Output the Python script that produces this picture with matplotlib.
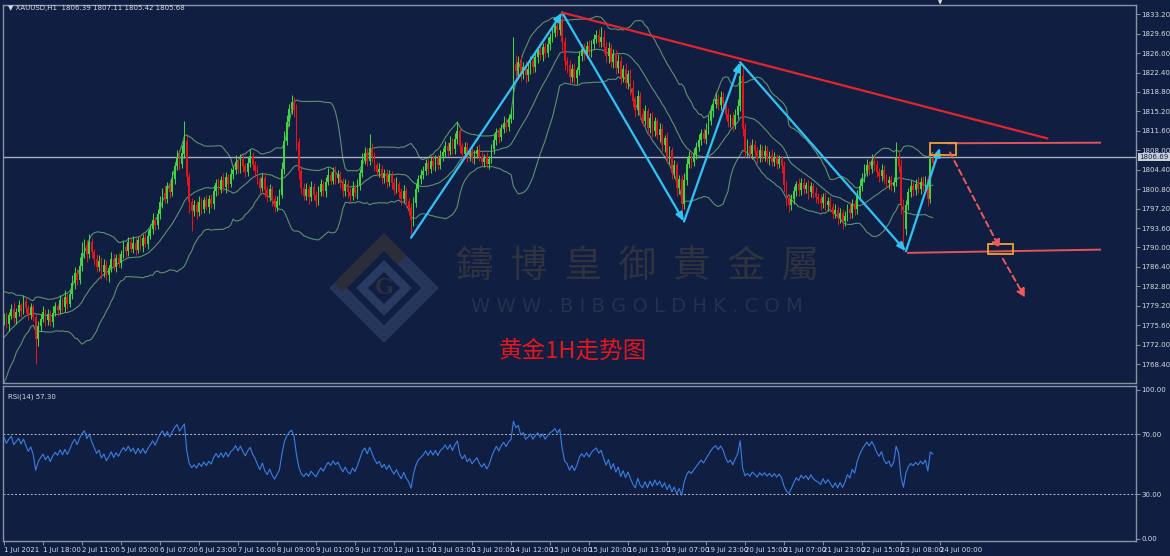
import matplotlib.pyplot as plt
import matplotlib.patches as mpatches
import numpy as np

# ---- data (XAUUSD H1, 1 Jul - 23 Jul 2021) ----
pre_close = [1765.0, 1766.6, 1765.8, 1767.9, 1769.2, 1768.1, 1770.4, 1771.9, 1770.8, 1772.7,
             1774.3, 1773.2, 1775.5, 1777.0, 1775.9, 1777.8, 1779.4, 1778.2, 1779.0, 1776.6]
first_open = 1776.6

close = [
    1777.0, 1775.8, 1777.4, 1778.6, 1776.9, 1778.1,
    1779.3, 1778.2, 1780.0, 1778.7, 1777.5, 1778.9, 1777.2,
    1773.0, 1775.4,
    1776.8, 1778.0, 1776.5, 1777.7, 1776.2, 1777.9, 1779.1,
    1778.4, 1780.2, 1779.0, 1780.8, 1779.6, 1781.3,
    1783.5, 1785.2, 1784.0, 1786.6,
    1788.9, 1790.4, 1788.7, 1791.0, 1789.2, 1787.8,
    1786.3, 1787.5, 1785.4, 1786.8, 1784.9, 1786.2, 1787.9, 1786.4, 1788.0, 1787.1,
    1788.8, 1790.1, 1789.3, 1791.0, 1789.8, 1790.9, 1789.6, 1791.4, 1790.3, 1791.8, 1790.7, 1792.2,
    1793.5, 1795.0, 1794.1, 1796.2,
    1798.4, 1800.1, 1799.0, 1801.3, 1800.2, 1802.6,
    1805.0, 1806.8, 1805.5, 1807.4, 1809.8,
    1803.0, 1798.5, 1796.8,
    1797.9, 1796.6, 1798.4, 1797.2, 1798.8, 1797.5, 1799.0, 1798.1,
    1800.4, 1801.9, 1800.7, 1802.5, 1801.2, 1803.0, 1801.8, 1803.6,
    1804.3, 1805.9, 1804.6, 1806.4, 1805.1, 1804.0, 1805.7, 1806.9, 1805.3, 1804.2,
    1802.6, 1801.1, 1802.9, 1800.6, 1799.4, 1800.8,
    1798.9, 1797.5, 1798.6, 1799.8,
    1804.5, 1809.8, 1813.2, 1815.6,
    1817.0, 1815.4,
    1809.5, 1804.2, 1801.0, 1799.6,
    1800.9, 1799.3, 1801.2, 1799.8, 1798.6, 1800.3, 1801.7, 1800.4,
    1802.1, 1803.5, 1802.4, 1804.0, 1802.8, 1803.6,
    1801.9, 1800.4, 1801.8, 1800.2, 1799.5, 1801.1, 1800.0, 1801.6,
    1803.8, 1806.2, 1807.5, 1806.0, 1808.4, 1806.8,
    1805.2, 1803.9, 1804.6, 1802.8, 1803.7, 1802.2, 1803.4, 1801.9,
    1800.7, 1801.8, 1800.2, 1799.0, 1800.5, 1798.6, 1797.4,
    1795.0,
    1798.3, 1800.9, 1802.6, 1803.4,
    1804.2, 1805.6, 1804.5, 1806.1, 1805.0, 1806.5, 1805.3, 1806.9,
    1807.6, 1808.8, 1807.9, 1809.4, 1808.2, 1810.1, 1811.5, 1808.7,
    1807.4, 1808.6, 1806.9, 1807.8, 1806.5, 1807.3, 1808.1, 1806.8,
    1805.9, 1806.7, 1805.4, 1806.3,
    1808.2, 1809.9, 1811.3, 1810.4, 1812.0, 1813.1, 1812.3, 1813.8, 1814.6,
    1824.0,
    1822.6, 1824.3, 1822.1, 1823.5, 1821.9, 1823.0, 1824.6, 1823.4,
    1825.2, 1826.5, 1825.6, 1827.1, 1826.0, 1827.6,
    1828.9, 1829.7, 1831.0, 1830.2, 1832.0,
    1828.0, 1824.5, 1823.7,
    1821.6, 1823.0, 1821.3, 1822.8,
    1825.4, 1826.8, 1825.9, 1827.3, 1826.2, 1827.7,
    1828.6, 1829.3, 1828.1, 1829.0,
    1827.2, 1825.4, 1826.9, 1824.3, 1825.8, 1823.2,
    1824.6, 1821.4, 1823.0, 1820.5, 1822.1, 1819.6,
    1817.1, 1815.4, 1818.0, 1814.8,
    1813.5, 1815.2, 1812.1, 1814.0, 1811.6, 1813.4, 1810.8, 1812.0,
    1808.9, 1810.2, 1806.5, 1808.0, 1803.8, 1805.2,
    1801.0, 1802.6, 1798.0,
    1802.5, 1805.4, 1806.9, 1805.8, 1807.3,
    1808.6, 1809.9, 1811.2, 1810.1, 1811.8, 1813.4,
    1815.2, 1816.6, 1817.4, 1816.3, 1817.9, 1816.8,
    1814.7, 1813.2, 1814.0, 1812.6,
    1814.5, 1816.2,
    1821.8,
    1812.0, 1807.9,
    1808.8, 1807.4, 1809.0, 1807.9, 1806.6, 1808.1, 1806.9, 1807.8, 1806.4, 1807.2,
    1805.9, 1806.8, 1805.5, 1806.3, 1805.0,
    1801.6, 1799.2, 1797.8, 1799.0,
    1800.4, 1801.7, 1800.6, 1802.0, 1800.9, 1801.5, 1800.2, 1801.3, 1800.1, 1799.4,
    1799.0, 1798.2, 1799.3, 1797.9, 1798.6, 1797.5,
    1796.2, 1797.0, 1795.5, 1796.4, 1794.9, 1795.8,
    1797.2, 1796.3, 1798.0, 1797.1,
    1799.6, 1801.4, 1802.9, 1804.1, 1805.3, 1804.6, 1806.0, 1805.2,
    1804.0, 1803.2, 1804.4, 1802.7,
    1801.9, 1802.5, 1801.3, 1802.2,
    1806.5, 1805.1,
    1798.0, 1793.5,
    1797.8, 1800.2, 1801.4, 1800.6, 1801.8, 1800.9,
    1802.2, 1801.3, 1802.6, 1799.0, 1806.39, 1805.68,
]

wick_up = [
    0.8, 1.1, 0.6, 0.9, 1.3, 0.7, 1.0, 0.5, 1.2, 0.8,
    0.6, 0.9, 0.7, 0.4, 1.0, 0.8, 1.1, 0.6, 0.9, 0.7,
    1.2, 0.8, 0.5, 1.0, 0.7, 1.3, 0.6, 0.9, 1.4, 1.1,
    0.8, 1.6, 2.1, 1.2, 0.9, 1.5, 0.8, 0.6, 0.9, 1.1,
    0.7, 1.0, 0.8, 0.6, 1.2, 0.9, 0.7, 1.0, 0.8, 1.1,
    0.6, 0.9, 0.7, 1.2, 0.8, 0.5, 1.0, 0.7, 0.9, 1.1,
    0.8, 1.3, 0.7, 1.0, 1.2, 0.9, 1.4, 0.8, 1.1, 1.5,
    0.9, 1.2, 0.8, 1.6, 3.7, 1.0, 0.8, 0.6, 0.9, 0.7,
    1.1, 0.8, 0.6, 1.0, 0.7, 0.9, 1.2, 0.8, 1.0, 0.7,
    1.3, 0.9, 0.6, 1.1, 0.8, 1.2, 0.7, 1.0, 0.9, 0.6,
    1.1, 1.4, 0.8, 0.7, 1.0, 0.6, 0.9, 0.8, 0.7, 1.0,
    0.6, 0.8, 0.9, 1.1, 1.4, 1.7, 1.3, 1.0, 1.2, 0.9,
    1.1, 0.8, 0.7, 0.9, 1.0, 0.6, 1.2, 0.8, 0.7, 1.1,
    0.9, 0.6, 1.0, 1.3, 0.7, 0.9, 1.1, 0.8, 0.6, 1.0,
    0.8, 0.7, 0.9, 1.2, 0.6, 1.0, 0.8, 1.3, 1.1, 0.9,
    2.6, 1.0, 0.8, 0.7, 1.1, 0.6, 0.9, 0.8, 1.0, 0.7,
    0.9, 1.2, 0.6, 0.8, 1.0, 0.7, 0.6, 0.9, 1.1, 1.0,
    0.8, 1.2, 0.9, 0.7, 1.0, 0.8, 1.1, 0.6, 0.9, 1.2,
    0.8, 1.0, 0.7, 1.3, 0.9, 1.1, 2.0, 0.8, 0.7, 1.0,
    0.9, 0.6, 1.1, 0.8, 0.7, 1.0, 0.8, 0.6, 0.9, 0.7,
    1.0, 1.2, 0.8, 1.1, 0.9, 1.3, 0.8, 1.0, 1.2, 5.0,
    1.6, 1.2, 1.4, 0.9, 1.1, 1.3, 0.8, 1.0, 1.2, 0.9,
    1.1, 0.8, 1.0, 1.3, 0.9, 1.1, 0.8, 1.2, 1.4, 1.7,
    1.0, 0.8, 1.1, 0.9, 1.2, 0.7, 1.0, 0.8, 1.1, 0.9,
    1.2, 0.8, 1.0, 0.9, 1.1, 1.8, 1.3, 0.9, 1.1, 0.8,
    1.0, 0.7, 1.2, 0.9, 0.8, 1.1, 0.7, 1.0, 1.4, 0.9,
    1.1, 0.8, 1.0, 1.2, 0.7, 0.9, 1.1, 0.8, 0.6, 1.0,
    0.9, 0.7, 1.1, 0.8, 0.6, 1.0, 0.7, 0.9, 0.8, 1.2,
    1.4, 1.0, 0.8, 1.1, 0.9, 1.2, 0.8, 1.0, 1.3, 1.1,
    1.2, 0.9, 1.4, 1.0, 1.1, 0.8, 0.9, 1.2, 0.7, 1.0,
    1.1, 1.3, 2.5, 1.6, 1.0, 1.2, 0.8, 1.1, 0.9, 0.7,
    1.0, 0.8, 1.2, 0.9, 0.7, 1.0, 0.8, 0.6, 0.9, 0.7,
    1.1, 0.8, 0.6, 0.9, 1.0, 0.7, 1.2, 0.8, 0.9, 0.6,
    1.0, 0.8, 0.7, 1.1, 0.6, 0.9, 0.8, 1.0, 0.7, 0.9,
    0.8, 1.1, 0.6, 0.9, 0.7, 1.0, 0.8, 1.2, 0.9, 0.7,
    1.0, 1.2, 0.9, 1.4, 1.1, 0.8, 1.3, 0.9, 1.0, 0.7,
    1.1, 0.8, 0.9, 0.7, 1.0, 0.8, 3.0, 1.4, 1.2, 0.9,
    1.0, 0.8, 1.1, 0.7, 0.9, 1.2, 0.8, 1.0, 0.7, 0.9,
    0.6, 0.72,
]

wick_dn = [
    0.9, 0.7, 1.2, 0.6, 0.8, 1.0, 0.7, 1.1, 0.6, 0.9,
    1.0, 0.7, 0.8, 4.5, 1.2, 0.9, 0.6, 1.0, 0.8, 0.7,
    0.9, 0.6, 1.1, 0.8, 0.7, 0.9, 1.0, 0.6, 0.8, 1.2,
    0.9, 0.7, 1.0, 0.8, 1.3, 0.6, 0.9, 1.1, 0.8, 0.7,
    1.2, 0.8, 0.9, 1.3, 0.7, 0.6, 1.0, 0.8, 0.9, 0.7,
    1.1, 0.8, 0.6, 0.9, 1.0, 0.7, 0.8, 1.2, 0.6, 0.9,
    0.7, 1.0, 0.8, 0.6, 0.9, 1.1, 0.7, 0.8, 1.0, 0.6,
    0.9, 0.7, 1.1, 0.8, 0.9, 1.4, 2.2, 3.8, 1.0, 1.3,
    0.7, 1.0, 0.8, 0.6, 1.1, 0.7, 0.9, 0.8, 1.0, 0.7,
    0.8, 1.1, 0.9, 0.6, 1.0, 0.7, 0.9, 0.8, 1.1, 0.9,
    0.7, 0.8, 1.0, 1.2, 0.8, 1.1, 0.7, 1.3, 1.0, 0.8,
    1.2, 0.9, 0.7, 0.8, 0.6, 0.9, 0.8, 0.7, 0.9, 1.2,
    1.4, 1.6, 1.1, 0.9, 0.8, 1.2, 0.7, 1.0, 1.1, 0.8,
    0.7, 0.9, 1.0, 0.6, 0.8, 0.7, 1.0, 0.9, 0.8, 1.1,
    0.9, 1.0, 1.2, 0.8, 0.7, 1.0, 0.9, 0.7, 0.8, 1.0,
    0.8, 0.9, 1.1, 0.7, 0.8, 1.0, 0.9, 1.1, 0.8, 1.0,
    0.9, 0.7, 1.0, 1.2, 0.8, 1.1, 1.3, 3.1, 1.0, 0.8,
    0.7, 0.9, 0.8, 0.7, 1.0, 0.8, 0.7, 0.9, 0.8, 0.7,
    0.9, 0.8, 1.0, 0.7, 0.9, 0.8, 1.0, 1.2, 0.8, 0.7,
    1.0, 0.8, 0.9, 1.1, 0.7, 0.8, 0.9, 1.0, 0.7, 0.8,
    0.7, 0.8, 0.9, 1.0, 0.7, 0.8, 1.0, 0.7, 0.8, 0.9,
    1.5, 1.0, 1.3, 0.9, 1.4, 1.0, 0.8, 1.1, 0.9, 1.0,
    0.8, 1.1, 0.9, 0.8, 1.0, 0.9, 0.8, 1.1, 0.9, 1.8,
    1.6, 1.3, 1.2, 0.9, 1.1, 1.0, 0.9, 0.8, 1.1, 0.9,
    0.8, 1.0, 0.9, 0.8, 1.0, 0.9, 1.1, 1.0, 1.2, 0.8,
    1.1, 1.0, 0.9, 1.2, 0.8, 1.0, 1.1, 1.3, 1.0, 1.2,
    0.9, 1.1, 1.0, 0.8, 1.2, 0.9, 1.1, 1.0, 0.8, 1.2,
    1.0, 1.3, 0.9, 1.1, 1.2, 1.0, 1.4, 1.1, 3.0, 0.8,
    0.9, 0.7, 1.0, 0.8, 0.9, 0.7, 1.0, 0.8, 0.9, 0.7,
    0.8, 1.0, 0.7, 0.9, 0.8, 1.1, 1.0, 0.8, 0.9, 1.0,
    0.7, 0.8, 0.9, 1.4, 1.2, 1.0, 0.8, 1.1, 0.9, 1.0,
    0.8, 1.0, 0.9, 0.7, 1.1, 0.8, 0.9, 1.0, 0.8, 1.2,
    1.4, 1.6, 1.3, 0.9, 1.0, 0.8, 1.1, 0.9, 1.0, 0.8,
    1.2, 0.9, 1.0, 1.1, 0.9, 1.2, 0.8, 1.0, 1.1, 0.9,
    1.0, 0.8, 1.3, 0.9, 1.5, 1.0, 0.9, 1.1, 0.8, 1.0,
    0.9, 0.8, 1.0, 0.7, 0.9, 1.1, 0.8, 1.0, 0.9, 1.1,
    0.8, 1.0, 0.9, 1.1, 0.8, 1.0, 0.9, 1.2, 1.8, 4.1,
    1.2, 0.9, 0.8, 1.0, 0.9, 0.8, 1.0, 0.9, 1.1, 1.4,
    0.7, 0.26,
]

last_price = 1806.69
price_ticks = [1833.20, 1829.60, 1826.00, 1822.40, 1818.80, 1815.20, 1811.60, 1808.00,
               1804.40, 1800.80, 1797.20, 1793.60, 1790.00, 1786.40, 1782.80, 1779.20,
               1775.60, 1772.00, 1768.40]
rsi_ticks = [100, 70, 30, 0]
time_labels = ['1 Jul 2021', '1 Jul 18:00', '2 Jul 11:00', '5 Jul 05:00', '6 Jul 07:00',
               '6 Jul 23:00', '7 Jul 16:00', '8 Jul 09:00', '9 Jul 01:00', '9 Jul 17:00',
               '12 Jul 11:00', '13 Jul 03:00', '13 Jul 20:00', '14 Jul 12:00', '15 Jul 04:00',
               '15 Jul 20:00', '16 Jul 13:00', '19 Jul 07:00', '19 Jul 23:00', '20 Jul 15:00',
               '21 Jul 07:00', '21 Jul 23:00', '22 Jul 15:00', '23 Jul 08:00', '24 Jul 00:00']
bars_per_label = 16

# analyst drawings (bar index, price)
zigzag_x = [167, 229, 279, 302, 370, 384]
zigzag_y = [1791.8, 1833.5, 1794.8, 1824.3, 1789.3, 1808.5]
trend_x = [229, 428]
trend_y = [1833.5, 1810.2]
upper_level_x = [387.3, 449.6]
upper_level_y = [1809.3, 1809.4]
lower_level_x = [370.9, 449.6]
lower_level_y = [1789.0, 1789.6]
boxes = [(380.0, 1807.2, 10.6, 2.1), (403.7, 1788.7, 10.3, 2.0)]
dash_arrows = [((388.1, 1807.6), (408.6, 1789.8)), ((409.8, 1787.9), (418.9, 1780.7))]

# ---- colours ----
BG = '#0f1e41'
FRAME = '#8a93a6'
TXT = '#d8dce4'
UP = '#3ed63e'
DN = '#e8131b'
BAND = '#5f8f70'

# ---- derived series ----
close = np.array(close)
opens = np.concatenate([[first_open], close[:-1]])
highs = np.maximum(opens, close) + np.array(wick_up)
lows = np.minimum(opens, close) - np.array(wick_dn)
idx = np.arange(len(close))

allc = np.concatenate([pre_close, close])
npre = len(pre_close)
win = np.lib.stride_tricks.sliding_window_view(allc, 20)
bb_mid = win.mean(axis=1)[npre - 19:]
bb_std = win.std(axis=1)[npre - 19:]

diff = np.diff(allc)
gain = np.clip(diff, 0, None)
loss = np.clip(-diff, 0, None)
ag, al = gain[:14].mean(), loss[:14].mean()
rsi_all = [np.nan] * 15
for g, l in zip(gain[14:], loss[14:]):
    ag = (ag * 13 + g) / 14
    al = (al * 13 + l) / 14
    rsi_all.append(100 - 100 / (1 + ag / al))
rsi = np.array(rsi_all)[npre:]

# ---- figure ----
W, H = 1170, 556
fig = plt.figure(figsize=(W / 100, H / 100), dpi=100, facecolor=BG)
ax = fig.add_axes([3 / W, 1 - 383 / H, 1133 / W, 378 / H], facecolor=BG)
ax2 = fig.add_axes([3 / W, 1 - 541 / H, 1133 / W, 155 / H], facecolor=BG, sharex=ax)

xmin, xmax = -0.4, 464.4
ax.set_xlim(xmin, xmax)
ax.set_ylim(1764.9, 1834.9)

# bollinger bands
for band in (bb_mid + 2 * bb_std, bb_mid, bb_mid - 2 * bb_std):
    ax.plot(idx, band, color=BAND, lw=0.8, zorder=2)

# candles
cols = np.where(close >= opens, UP, DN)
ax.vlines(idx, lows, highs, colors=cols, lw=0.75, zorder=3)
body = np.maximum(np.abs(close - opens), 0.08)
ax.bar(idx, body, bottom=np.minimum(opens, close), width=0.72, color=cols, lw=0, zorder=3)

# current price line + label
ax.axhline(last_price, color='#a9b0c0', lw=1.0, zorder=2)
ax.text(1.003, last_price, f'{last_price:.2f}', transform=ax.get_yaxis_transform(),
        fontsize=5, color='#0f1e41', va='center', ha='left',
        bbox=dict(boxstyle='square,pad=0.15', fc='#c9ced8', ec='none'), clip_on=False)

# analyst drawings
for k in range(len(zigzag_x) - 1):
    ax.annotate('', xy=(zigzag_x[k + 1], zigzag_y[k + 1]), xytext=(zigzag_x[k], zigzag_y[k]),
                arrowprops=dict(arrowstyle='-|>,head_length=0.5,head_width=0.2',
                                color='#2ec4f5', lw=1.6, shrinkA=0, shrinkB=0), zorder=5)
ax.plot(trend_x, trend_y, color='#e4242c', lw=1.6, zorder=5)
ax.plot(upper_level_x, upper_level_y, color='#e0545a', lw=1.4, zorder=5)
ax.plot(lower_level_x, lower_level_y, color='#e0545a', lw=1.4, zorder=5)
for bx, by, bw, bh in boxes:
    ax.add_patch(mpatches.Rectangle((bx, by), bw, bh, fill=False, ec='#f2a132', lw=1.3, zorder=6))
for (x0, y0), (x1, y1) in dash_arrows:
    ax.annotate('', xy=(x1, y1), xytext=(x0, y0),
                arrowprops=dict(arrowstyle='-|>,head_length=0.5,head_width=0.25',
                                color='#f0585c', lw=1.4, ls=(0, (3, 2)),
                                shrinkA=0, shrinkB=0), zorder=6)

# watermark
def fx(x):
    return x / W

def fy(y):
    return 1 - y / H

cx, cy, r = 384, 288, 46
outer = [(cx, cy - r), (cx + r, cy), (cx, cy + r), (cx - r, cy)]
fig.patches.append(mpatches.Polygon([(fx(a), fy(b)) for a, b in outer], closed=True,
                                    fill=False, ec='#26365a', lw=9, transform=fig.transFigure,
                                    zorder=1))
fig.patches.append(mpatches.Polygon([(fx(a), fy(b)) for a, b in
                                     [(cx - r, cy), (cx, cy - r), (cx + 18, cy - r + 18)]],
                                    closed=False, fill=False, ec='#2b2d38', lw=9,
                                    transform=fig.transFigure, zorder=1))
r2 = 22
inner = [(cx, cy - r2), (cx + r2, cy), (cx, cy + r2), (cx - r2, cy)]
fig.patches.append(mpatches.Polygon([(fx(a), fy(b)) for a, b in inner], closed=True,
                                    fill=False, ec='#283a60', lw=6, transform=fig.transFigure,
                                    zorder=1))
fig.text(fx(cx), fy(cy), 'G', fontsize=16, fontweight='bold', family='DejaVu Serif',
         color='#2b2e3c', ha='center', va='center')
fig.text(fx(637), fy(266), '鑄  博  皇  御  貴  金  屬', fontsize=27, color='#2f323f',
         family=['Noto Sans CJK TC', 'DejaVu Sans'], ha='center', va='center', zorder=1)
fig.text(fx(637), fy(307), 'W W W . B I B G O L D H K . C O M', fontsize=14, color='#27304c',
         ha='center', va='center', zorder=1)

fig.text(fx(573), fy(351), '黄金1H走势图', fontsize=17, color='#e4161e',
         family=['Noto Sans CJK SC', 'DejaVu Sans'], ha='center', va='center', zorder=7)

# header
fig.text(fx(8), fy(8), '\u25bc XAUUSD,H1  1806.39 1807.11 1805.42 1805.68', fontsize=5,
         color=TXT, ha='left', va='center')
fig.text(fx(940), fy(3), '\u25bc', fontsize=4, color='#e8e8e8', ha='center', va='center')

# main axis styling
ax.yaxis.tick_right()
ax.set_yticks(price_ticks)
ax.set_yticklabels([f'{v:.2f}' for v in price_ticks])
ax.tick_params(axis='y', colors=FRAME, labelcolor=TXT, labelsize=5, length=3, width=0.7, pad=1)
ax.tick_params(axis='x', bottom=False, labelbottom=False)
for s in ax.spines.values():
    s.set_color(FRAME)
    s.set_linewidth(1.0)

# RSI panel
ax2.set_ylim(-1.5, 102.5)
ax2.plot(idx, rsi, color='#3b7ee0', lw=0.8, zorder=3)
for lv in (70, 30):
    ax2.axhline(lv, color='#b8bfcc', lw=0.7, ls=(0, (2, 2)), zorder=2)
ax2.text(0.004, 0.93, f'RSI(14) {57.30:.2f}', transform=ax2.transAxes, fontsize=5,
         color=TXT, ha='left', va='center')
ax2.yaxis.tick_right()
ax2.set_yticks(rsi_ticks)
ax2.set_yticklabels([f'{v:.2f}' for v in rsi_ticks])
ax2.tick_params(axis='y', colors=FRAME, labelcolor=TXT, labelsize=5, length=3, width=0.7, pad=1)
ax2.set_xticks([k * bars_per_label for k in range(len(time_labels))])
ax2.set_xticklabels(time_labels)
ax2.tick_params(axis='x', colors=FRAME, labelcolor=TXT, labelsize=5, length=3, width=0.7, pad=1)
for lbl in ax2.get_xticklabels():
    lbl.set_horizontalalignment('left')
for s in ax2.spines.values():
    s.set_color(FRAME)
    s.set_linewidth(1.0)

fig.savefig('out.png', dpi=100, facecolor=BG)
